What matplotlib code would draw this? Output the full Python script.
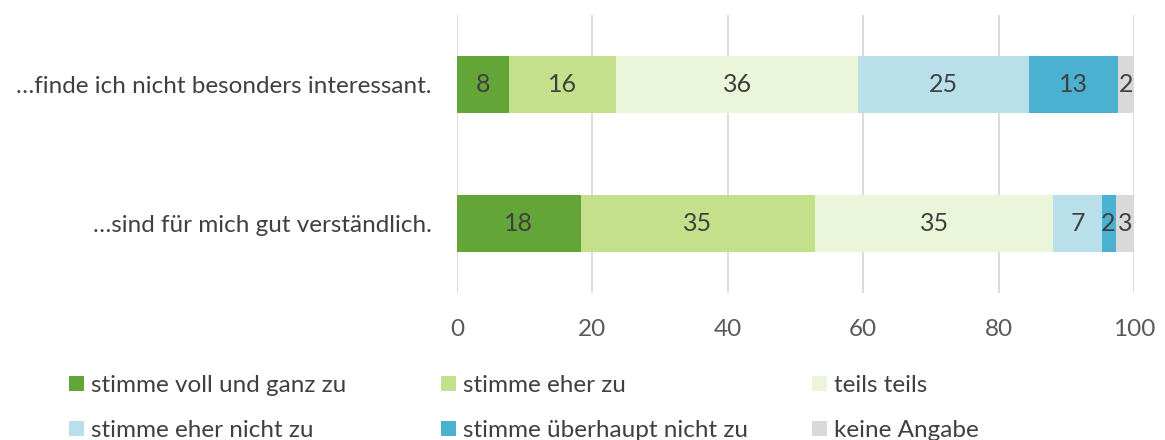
import matplotlib
matplotlib.use("Agg")
import matplotlib.pyplot as plt
from matplotlib.patches import Rectangle

plt.rcParams['font.family'] = ['Lato', 'DejaVu Sans']

categories = ["…finde ich nicht besonders interessant.", "…sind für mich gut verständlich."]
series_names = ["stimme voll und ganz zu", "stimme eher zu", "teils teils",
                "stimme eher nicht zu", "stimme überhaupt nicht zu", "keine Angabe"]
values = {
    "stimme voll und ganz zu": [7.7, 18.3],
    "stimme eher zu": [15.8, 34.6],
    "teils teils": [35.8, 35.2],
    "stimme eher nicht zu": [25.2, 7.1],
    "stimme überhaupt nicht zu": [13.2, 2.1],
    "keine Angabe": [2.3, 2.7],
}
colors = ["#63a537", "#c5e08b", "#eaf5d9", "#b9e0ea", "#4bb1d0", "#d9d9d9"]
xticks = [0, 20, 40, 60, 80, 100]

W, H = 1165, 440
fig = plt.figure(figsize=(W/100, H/100), dpi=100)
ax = fig.add_axes([457/W, 1-293/H, (1134-457)/W, 278/H])

ypos = list(range(len(categories)))
left = [0.0]*len(categories)
for name, col in zip(series_names, colors):
    vals = values[name]
    ax.barh(ypos, vals, left=left, height=0.41, color=col, zorder=3)
    for y, v, l in zip(ypos, vals, left):
        ax.text(l + v/2, y, f"{round(v):d}", ha='center', va='center',
                fontsize=18, color='#404040', zorder=4)
    left = [a+b for a, b in zip(left, vals)]

ax.set_ylim(1.5, -0.5)
ax.set_xlim(0, 100)
ax.set_xticks(xticks)
ax.set_xticklabels([str(t) for t in xticks])
ax.set_yticks(ypos)
ax.set_yticklabels(categories)
ax.tick_params(axis='x', length=0, pad=19, labelsize=17.5, labelcolor='#595959')
ax.tick_params(axis='y', length=0, pad=18, labelsize=17.5, labelcolor='#404040')
ax.grid(axis='x', color='#d9d9d9', linewidth=1.3, zorder=0)
for s in ax.spines.values():
    s.set_visible(False)

# legend: 3 columns, row-major order
col_x = [69, 441, 812]
row_y = [383, 428]
for i, (name, col) in enumerate(zip(series_names, colors)):
    r, c = divmod(i, 3)
    x0, yc = col_x[c], row_y[r]
    fig.add_artist(Rectangle((x0/W, 1-(yc+7.5)/H), 15/W, 15/H, transform=fig.transFigure,
                             facecolor=col, edgecolor='none'))
    fig.text((x0+22)/W, 1-yc/H, name, ha='left', va='center_baseline',
             fontsize=17.5, color='#404040')

fig.savefig("out.png", dpi=100)
